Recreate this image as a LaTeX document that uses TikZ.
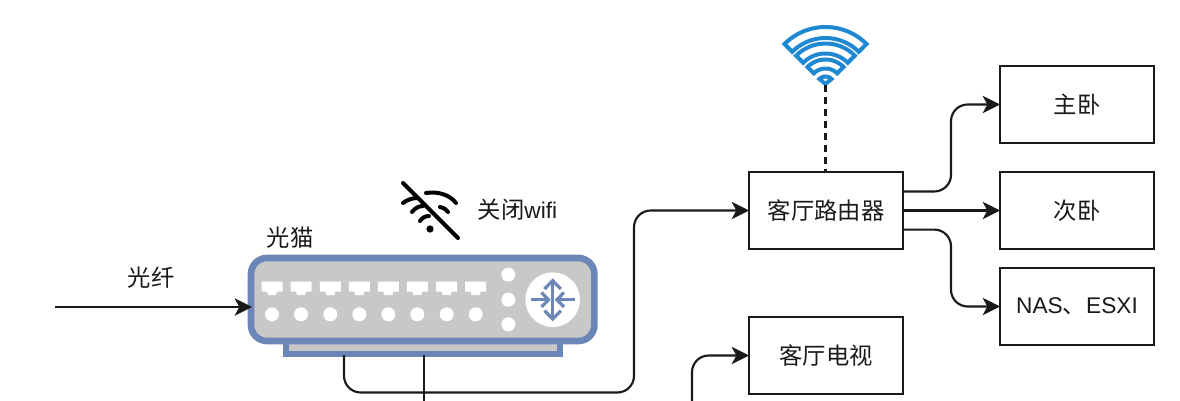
\documentclass[tikz,border=0pt]{standalone}
\usepackage{fontspec}
\setmainfont{Liberation Sans}
\newfontfamily\cjk{Noto Sans CJK SC}
\usetikzlibrary{arrows.meta}
\definecolor{ink}{HTML}{1A1A1A}
\definecolor{modemblue}{HTML}{6C86B8}
\definecolor{modemgrey}{HTML}{C8C8C8}
\definecolor{wifiblue}{HTML}{1E88D2}
\newcommand{\cjktxt}[1]{{\cjk\fontsize{17.5}{20}\selectfont #1}}
\newcommand{\lat}{\fontsize{17}{20}\selectfont}
\tikzset{
  x=0.75pt,y=-0.75pt,
  box/.style={draw=ink,line width=1.6pt,fill=white,minimum width=115.5pt,minimum height=57.75pt,inner sep=0pt,outer sep=0pt,text=ink},
  label/.style={inner sep=0pt,text=ink},
  conn/.style={draw=ink,line width=1.6pt,rounded corners=12.5pt,-{Stealth[length=13pt,width=13pt,inset=3.5pt]}},
  plain/.style={draw=ink,line width=1.6pt,rounded corners=12.5pt},
  hole/.style={circle,fill=white,inner sep=0pt,minimum size=10.5pt},
  port/.style={fill=white,draw=none},
  band/.style={draw=wifiblue,line width=3pt,line join=miter},
  off/.style={draw=black,line width=3pt,line cap=round},
  glyph/.style={draw=modemblue,line width=2.4pt,line cap=butt},
  chev/.style={draw=modemblue,line width=2.4pt,line cap=butt,line join=miter},
}
\begin{document}
\begin{tikzpicture}
\useasboundingbox (0,0) rectangle (1180,400);
\clip (0,0) rectangle (1180,400);
\fill[white] (0,0) rectangle (1180,400);

% modem foot and body
\node[draw=modemblue,line width=4.5pt,fill=modemgrey,minimum width=205.5pt,minimum height=10.5pt,inner sep=0pt,outer sep=0pt,anchor=north west] (foot) at (286,340) {};
\node[draw=modemblue,line width=5pt,fill=modemgrey,rounded corners=12pt,minimum width=257.5pt,minimum height=62.25pt,inner sep=0pt,outer sep=0pt,anchor=north west] (modem) at (251,258) {};

% ports
\foreach \px/\i in {272/1,301/2,330.3/3,359.3/4,388.3/5,417.3/6,446.7/7,475.7/8}{
  \fill[port] (\px-10.5,281.7) -- (\px+10.5,281.7) -- (\px+10.5,291.5) -- (\px+5,291.5) -- (\px+4,295) -- (\px-4,295) -- (\px-5,291.5) -- (\px-10.5,291.5) -- cycle;
  \node[hole] (hole\i) at (\px,314.3) {};
}
\node[hole] (dota) at (508.3,274.7) {};
\node[hole] (dotb) at (508.3,299.7) {};
\node[hole] (dotc) at (508.3,324.3) {};
\node[circle,fill=white,inner sep=0pt,minimum size=41pt] (hub) at (552.7,299.7) {};
% router glyph
\draw[glyph] (552.7,282) -- (552.7,318);
\draw[chev] (544.5,289) -- (552.7,280.7) -- (560.9,289);
\draw[chev] (544.5,310.7) -- (552.7,319) -- (560.9,310.7);
\draw[glyph] (530.7,299.7) -- (547,299.7);
\draw[chev] (541.5,292.5) -- (548.5,299.7) -- (541.5,306.9);
\draw[glyph] (574.5,299.7) -- (558.4,299.7);
\draw[chev] (563.9,292.5) -- (556.9,299.7) -- (563.9,306.9);

% boxes
\node[box] (router) at (826,210.5) {\cjktxt{客厅路由器}};
\node[box] (tv) at (826,355.5) {\cjktxt{客厅电视}};
\node[box] (master) at (1077,104.5) {\cjktxt{主卧}};
\node[box] (second) at (1077,210.5) {\cjktxt{次卧}};
\node[box] (nas) at (1077,306.5) {\lat NAS\cjktxt{、}ESXI};

% labels
\node[label] (fibre) at (151,278) {\cjktxt{光纤}};
\node[label] (modemname) at (290,238) {\cjktxt{光猫}};
\node[label] (wifioff) at (517.5,210) {\cjktxt{关闭}\lat wifi};

% wifi icon
\coordinate (wifi) at (825.5,85);
\begin{scope}[shift={(wifi)}]
  \foreach \ro/\ri in {58/47,41.5/31.5,25.5/16.5}{
    \draw[band] plot[domain=-45:45,samples=25,smooth] ({\ro*sin(\x)},{-\ro*cos(\x)}) -- plot[domain=45:-45,samples=25,smooth] ({\ri*sin(\x)},{-\ri*cos(\x)}) -- cycle;
  }
  \draw[band] (0,-1) -- plot[domain=-45:45,samples=9,smooth] ({8.5*sin(\x)},{-8.5*cos(\x)}) -- cycle;
\end{scope}

% wifi off icon
\node[circle,fill=black,inner sep=0pt,minimum size=5.5pt] (offdot) at (430,229) {};
\draw[off] (403,183) -- (458,238);
\draw[off] (426,193) .. controls (438,191) and (450,195) .. (456,203);
\draw[off] (403,203) .. controls (407,200) and (412,198) .. (417,198);
\draw[off] (412,212) .. controls (415,208) and (419,206) .. (423,206);
\draw[off] (440,207) .. controls (444,208) and (446,209) .. (448,212);
\draw[off] (420,221) .. controls (422,218) and (425,216) .. (429,216);

% connectors
\coordinate (fibrestart) at (55,307);
\coordinate (fibreend) at (252,307);
\draw[conn] (fibrestart) -- (fibreend);
\draw[plain,dashed,dash pattern=on 5pt off 4pt,rounded corners=0pt] (wifi) -- (wifi |- router.north);
\coordinate (lan1) at (344,355);
\coordinate (lan2) at (424,355);
\coordinate (lan2end) at (424,402);
\coordinate (tvstart) at (692,402);
\draw[conn] (lan1) -- (344,392.5) -- (634,392.5) -- (634,210.5) -- (router.west);
\draw[plain] (lan2) -- (lan2end);
\draw[conn] (tvstart) -- (692,355.5) -- (tv.west);
\draw[conn] ([yshift=14.3pt]router.east) -- (951,191.5) -- (951,104.5) -- (master.west);
\draw[conn] (router.east) -- (second.west);
\draw[conn] ([yshift=-14.3pt]router.east) -- (951,229.6) -- (951,306.5) -- (nas.west);
\end{tikzpicture}
\end{document}
